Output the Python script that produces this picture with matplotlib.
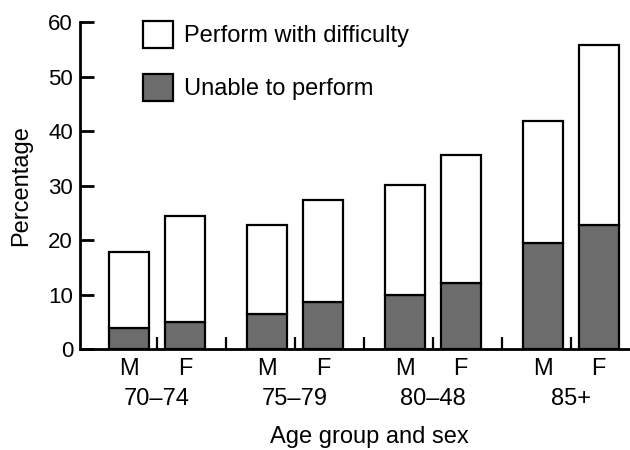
"""Stacked bars: share of older people who perform a task with difficulty
or are unable to perform it, by age group and sex.

Writes out.png (630x450).
"""

import matplotlib

matplotlib.use("Agg")  # headless
import matplotlib.pyplot as plt  # noqa: E402
from matplotlib.patches import Patch  # noqa: E402

OUT_PNG = "out.png"

GROUPS = ["70–74", "75–79", "80–48", "85+"]
SEXES = ["M", "F"]
# one value per bar, order: M, F for each age group
UNABLE = [3.9, 4.9, 6.4, 8.7, 10.0, 12.1, 19.4, 22.8]
DIFFICULTY = [13.9, 19.6, 16.3, 18.6, 20.2, 23.5, 22.4, 32.9]
Y_TICKS = [0, 10, 20, 30, 40, 50, 60]

DARK = "#6c6c6c"
FONT = ["Liberation Sans", "DejaVu Sans"]
FS = 17


def main() -> None:
    plt.rcParams["font.family"] = FONT
    plt.rcParams["font.size"] = FS

    fig = plt.figure(figsize=(6.3, 4.5), dpi=100)
    ax = fig.add_axes([0.127, 0.224, 0.873, 0.727])

    # each group sits on an odd slot, M and F either side of it
    xs, labels = [], []
    for g, _ in enumerate(GROUPS):
        for s, sex in enumerate(SEXES):
            xs.append(1 + 2 * g + (-0.405 if s == 0 else 0.405))
            labels.append(sex)

    ax.bar(xs, UNABLE, width=0.58, color=DARK, edgecolor="black",
           linewidth=1.6, zorder=2)
    ax.bar(xs, DIFFICULTY, width=0.58, bottom=UNABLE, color="white",
           edgecolor="black", linewidth=1.6, zorder=2)

    ax.set_xlim(-0.12, 7.86)
    ax.set_ylim(0, 60)
    ax.set_yticks(Y_TICKS)

    for side in ("top", "right"):
        ax.spines[side].set_visible(False)
    for side in ("left", "bottom"):
        ax.spines[side].set_linewidth(2)

    ax.tick_params(axis="y", direction="in", length=10, width=2, pad=5,
                   labelsize=16)
    # short upward ticks between the bars, no labels on them
    ax.set_xticks(range(1, 2 * len(GROUPS)))
    ax.tick_params(axis="x", which="major", direction="in", length=9,
                   width=1.6, labelbottom=False)
    ax.set_xticks(xs, minor=True)
    ax.set_xticklabels(labels, minor=True)
    ax.tick_params(axis="x", which="minor", length=0, pad=6)

    for g, name in enumerate(GROUPS):
        ax.text(1 + 2 * g, -0.151, name, transform=ax.get_xaxis_transform(),
                ha="center", va="center")

    ax.set_ylabel("Percentage")
    ax.set_xlabel("Age group and sex")
    ax.xaxis.set_label_coords(0.527, -0.236)
    ax.yaxis.set_label_coords(-0.087, 0.5)

    handles = [
        Patch(facecolor="white", edgecolor="black", linewidth=1.6),
        Patch(facecolor=DARK, edgecolor="black", linewidth=1.6),
    ]
    ax.legend(handles, ["Perform with difficulty", "Unable to perform"],
              loc="upper left", bbox_to_anchor=(0.114, 1.004), frameon=False,
              borderpad=0, borderaxespad=0, handlelength=1.27,
              handleheight=1.38, handletextpad=0.47, labelspacing=1.12,
              fontsize=FS)

    fig.savefig(OUT_PNG, dpi=100)
    plt.close(fig)


if __name__ == "__main__":
    main()
